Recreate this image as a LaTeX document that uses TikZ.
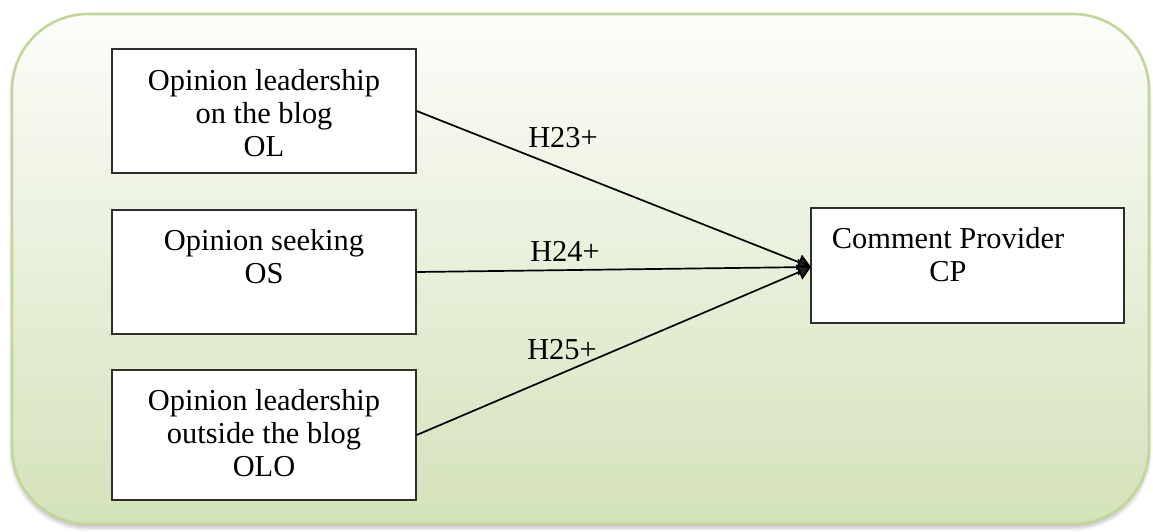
\documentclass[tikz,border=0pt]{standalone}
\usepackage{fontspec}
\setmainfont{Liberation Serif}
\usetikzlibrary{arrows.meta,shadows.blur}
\definecolor{bgtop}{HTML}{FCFDFA}
\definecolor{bgmid}{HTML}{F0F5E8}
\definecolor{bgbot}{HTML}{D4E2BA}
\definecolor{bgline}{HTML}{C2D69A}
\definecolor{boxline}{HTML}{2E2E2E}
\tikzset{
  px/.style={x=0.5pt,y=-0.5pt},
  boxnode/.style={draw=boxline,fill=white,line width=0.7pt,minimum width=152pt,inner sep=0pt},
  txt/.style={font=\fontsize{15.2}{16.5}\selectfont,align=center,inner sep=0pt,text=black},
  link/.style={line width=0.85pt,-{Triangle[length=6.5pt,width=8pt]}},
  hlab/.style={font=\fontsize{15.2}{16.5}\selectfont,inner sep=0pt,text=black}
}
\begin{document}
\begin{tikzpicture}[px]
\useasboundingbox (0,0) rectangle (1153,531);
\shade[top color=bgtop,middle color=bgmid,bottom color=bgbot,draw=bgline,line width=1.3pt,rounded corners=38pt,
  blur shadow={shadow xshift=0pt,shadow yshift=-2pt,shadow blur steps=6,shadow opacity=25}]
  (12,14) rectangle (1149,524);
% boxes
\node[boxnode,minimum height=62pt] (OL) at (264,111) {};
\node[boxnode,minimum height=62pt] (OS) at (264,272) {};
\node[boxnode,minimum height=65pt] (OLO) at (264,435) {};
\node[boxnode,minimum width=156.5pt,minimum height=57.5pt] (CP) at (967.5,265.5) {};
% texts
\node[txt] (tOL) at (264,113) {Opinion leadership\\on the blog\\OL};
\node[txt] (tOS) at (264,257) {Opinion seeking\\OS};
\node[txt] (tOLO) at (264,433) {Opinion leadership\\outside the blog\\OLO};
\node[txt] (tCP) at (948,255) {Comment Provider\\CP};
% connectors
\coordinate (tip) at (811,267);
\draw[link] (OL.east) -- (tip);
\draw[link] (OS.east) -- (tip);
\draw[link] (OLO.east) -- (tip);
% labels
\node[hlab] (h23) at (563,138) {H23+};
\node[hlab] (h24) at (565,251) {H24+};
\node[hlab] (h25) at (562,350) {H25+};
\end{tikzpicture}
\end{document}
